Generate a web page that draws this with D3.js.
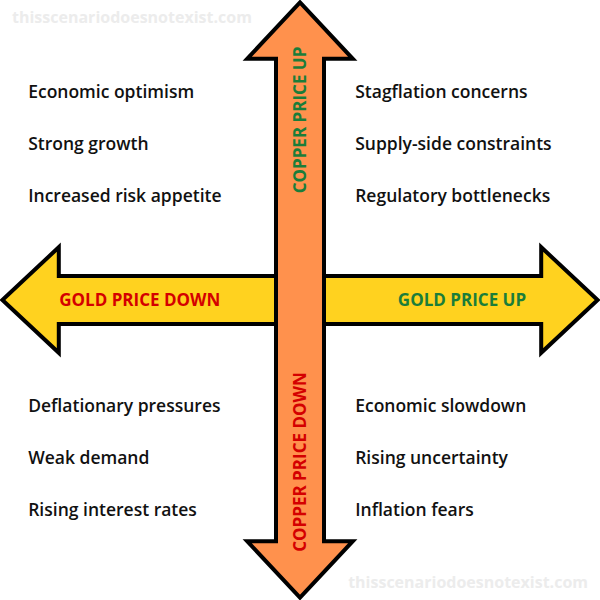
<!DOCTYPE html>
<html>
<head>
<meta charset="utf-8">
<script src="https://cdn.jsdelivr.net/npm/d3@7"></script>
<style>
  body { margin: 0; background: #fff; }
  text { font-family: "Open Sans", sans-serif; }
</style>
</head>
<body>
<script>
// quadrant labels, top-left / top-right / bottom-left / bottom-right
var topLeft = ["Economic optimism", "Strong growth", "Increased risk appetite"];
var topRight = ["Stagflation concerns", "Supply-side constraints", "Regulatory bottlenecks"];
var bottomLeft = ["Deflationary pressures", "Weak demand", "Rising interest rates"];
var bottomRight = ["Economic slowdown", "Rising uncertainty", "Inflation fears"];
var axisLabels = ["GOLD PRICE DOWN", "GOLD PRICE UP", "COPPER PRICE UP", "COPPER PRICE DOWN"];
var watermark = "thisscenariodoesnotexist.com";

var W = 600, H = 600;
var svg = d3.select("body").append("svg").attr("width", W).attr("height", H);

// unit coords -> pixels
var x = d3.scaleLinear().domain([0, 1]).range([0, W]);
var y = d3.scaleLinear().domain([0, 1]).range([0, H]);

var sw = 0.040, hw = 0.088, hl = 0.098, tip = 0.004;

function hArrow() {
  var p = [[tip, .5], [hl, .5 - hw], [hl, .5 - sw], [1 - hl, .5 - sw], [1 - hl, .5 - hw], [1 - tip, .5],
           [1 - hl, .5 + hw], [1 - hl, .5 + sw], [hl, .5 + sw], [hl, .5 + hw]];
  return d3.line().x(d => x(d[0])).y(d => y(d[1]))(p) + "Z";
}
function vArrow() {
  var p = [[.5, tip], [.5 + hw, hl], [.5 + sw, hl], [.5 + sw, 1 - hl], [.5 + hw, 1 - hl], [.5, 1 - tip],
           [.5 - hw, 1 - hl], [.5 - sw, 1 - hl], [.5 - sw, hl], [.5 - hw, hl]];
  return d3.line().x(d => x(d[0])).y(d => y(d[1]))(p) + "Z";
}

svg.append("path").attr("d", hArrow()).attr("fill", "#ffd21f")
  .attr("stroke", "#000").attr("stroke-width", 4).attr("stroke-linejoin", "miter");
svg.append("path").attr("d", vArrow()).attr("fill", "#ff914d")
  .attr("stroke", "#000").attr("stroke-width", 4).attr("stroke-linejoin", "miter");

var green = "#1b7d3a", red = "#d40000";
var lab = svg.append("g").attr("font-weight", 700).attr("font-size", 17);
lab.append("text").attr("x", x(0.233)).attr("y", y(0.5) + 6).attr("text-anchor", "middle")
  .attr("fill", red).text(axisLabels[0]);
lab.append("text").attr("x", x(0.77)).attr("y", y(0.5) + 6).attr("text-anchor", "middle")
  .attr("fill", green).text(axisLabels[1]);
lab.append("text").attr("transform", "translate(" + (x(0.5) + 6) + "," + y(0.2) + ") rotate(-90)")
  .attr("text-anchor", "middle").attr("fill", green).text(axisLabels[2]);
lab.append("text").attr("transform", "translate(" + (x(0.5) + 6) + "," + y(0.77) + ") rotate(-90)")
  .attr("text-anchor", "middle").attr("fill", red).text(axisLabels[3]);

function block(items, x0, y0) {
  svg.append("g").selectAll("text").data(items).join("text")
    .attr("x", x(x0)).attr("y", (d, i) => y(y0) + i * 52)
    .attr("font-size", 17.5).attr("font-weight", 600).attr("fill", "#111")
    .text(d => d);
}
block(topLeft, 0.047, 0.163);
block(topRight, 0.592, 0.163);
block(bottomLeft, 0.047, 0.686);
block(bottomRight, 0.592, 0.686);

svg.append("text").attr("x", 12).attr("y", 23).attr("font-size", 16).attr("font-weight", 700)
  .attr("fill", "#ececec").text(watermark);
svg.append("text").attr("x", 588).attr("y", 588).attr("text-anchor", "end").attr("font-size", 16)
  .attr("font-weight", 700).attr("fill", "#ececec").text(watermark);
</script>
</body>
</html>
